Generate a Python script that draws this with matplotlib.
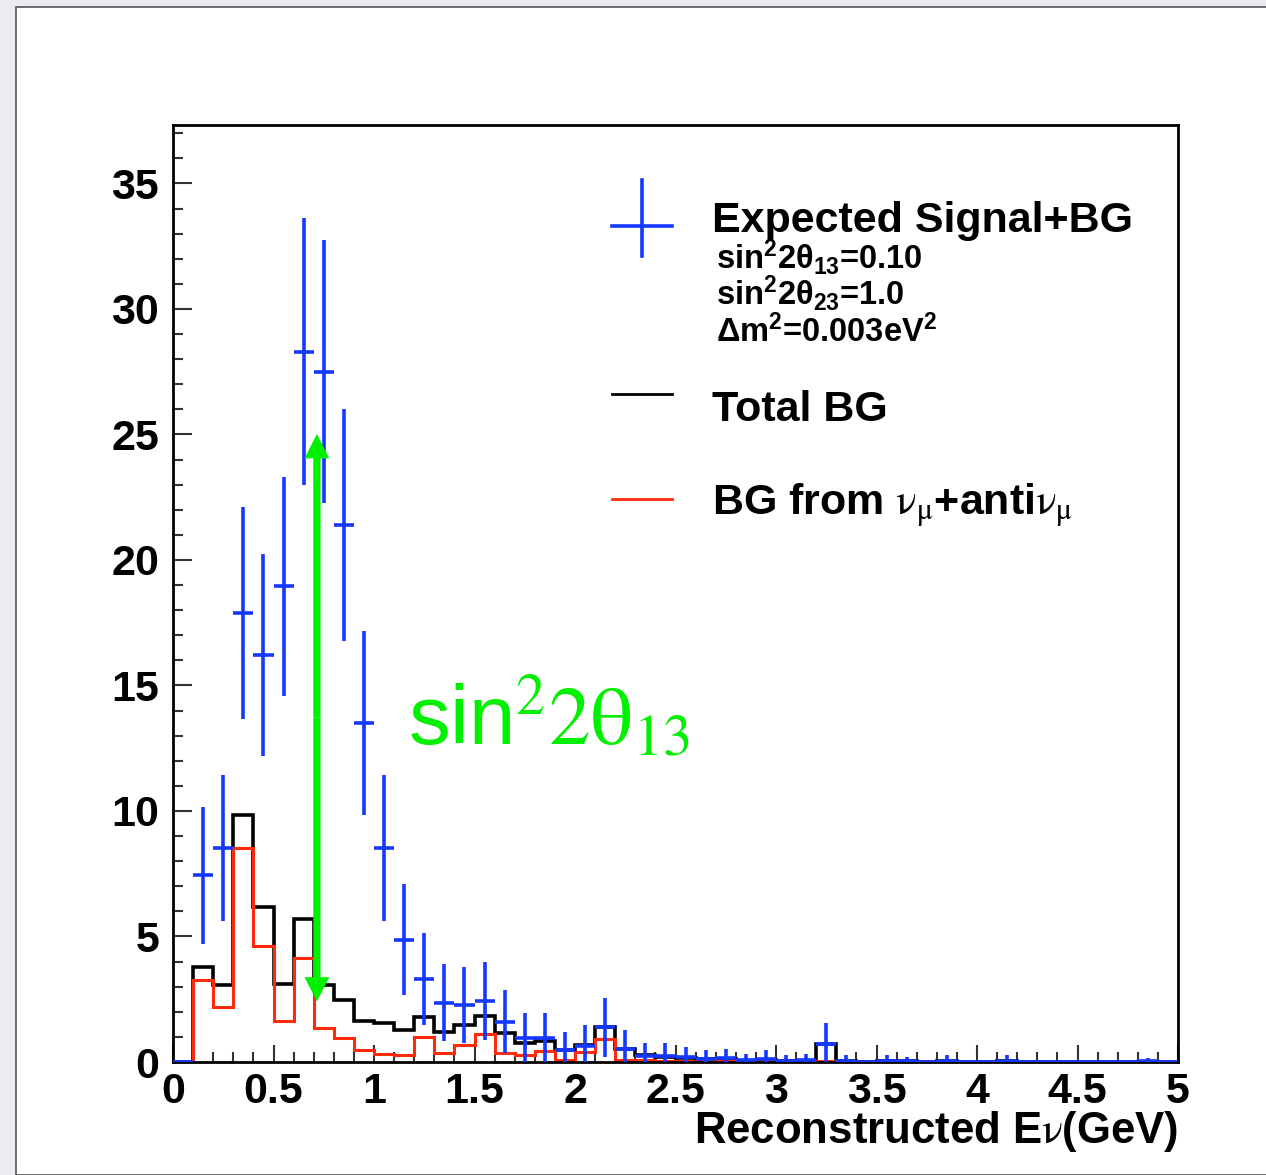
import numpy as np
import matplotlib.pyplot as plt
from matplotlib.patches import Rectangle
from matplotlib.lines import Line2D

plt.rcParams['font.family'] = ['Liberation Sans', 'DejaVu Sans']
plt.rcParams['mathtext.fontset'] = 'custom'
plt.rcParams['mathtext.rm'] = 'Liberation Sans:bold'
plt.rcParams['mathtext.it'] = 'Liberation Sans:bold'
plt.rcParams['mathtext.bf'] = 'Liberation Sans:bold'

# bin edges (GeV), 0.1 GeV bins
edges = np.round(np.arange(0, 5.0001, 0.1), 2)
centers = 0.5 * (edges[:-1] + edges[1:])

# expected signal + BG (blue points)
signal_bg = [0, 7.44, 8.53, 17.9, 16.22, 18.95, 28.3, 27.5, 21.4, 13.5,
             8.53, 4.87, 3.31, 2.36, 2.28, 2.42, 1.61, 0.96, 0.96, 0.49,
             0.65, 1.38, 0.53, 0.25, 0.25, 0.18, 0.13, 0.15, 0.07, 0.12,
             0.05, 0.07, 0.72, 0.05, 0.0, 0.05, 0.03, 0.0, 0.05, 0.0,
             0.0, 0.05, 0.0, 0.0, 0.0, 0.0, 0.0, 0.0, 0.02, 0.0]

# total background (black histogram)
total_bg = [0, 3.77, 3.05, 9.84, 6.16, 3.12, 5.71, 3.05, 2.47, 1.65,
            1.55, 1.26, 1.79, 1.18, 1.48, 1.85, 1.16, 0.76, 0.84, 0.49,
            0.66, 1.38, 0.53, 0.28, 0.2, 0.15, 0.1, 0.1, 0.05, 0.08,
            0.03, 0.05, 0.72, 0.03, 0.0, 0.03, 0.02, 0.0, 0.02, 0.0,
            0.0, 0.02, 0.0, 0.0, 0.0, 0.0, 0.0, 0.0, 0.0, 0.0]

# BG from numu + anti-numu (red histogram)
numu_bg = [0, 3.28, 2.19, 8.51, 4.61, 1.63, 4.14, 1.35, 0.94, 0.48,
           0.33, 0.29, 1.0, 0.35, 0.69, 1.12, 0.36, 0.29, 0.42, 0.09,
           0.38, 0.92, 0.09, 0.09, 0.05, 0.03, 0.02, 0.02, 0.01, 0.02,
           0.0, 0.01, 0.02, 0.0, 0.0, 0.0, 0.0, 0.0, 0.0, 0.0,
           0.0, 0.0, 0.0, 0.0, 0.0, 0.0, 0.0, 0.0, 0.0, 0.0]

signal_bg = np.array(signal_bg)
BLUE = '#1438ff'
RED = '#ff2a0a'
GREEN = '#00f000'

fig = plt.figure(figsize=(12.66, 11.75), dpi=100)
fig.patch.set_facecolor('#ebebf0')
fig.patches.append(Rectangle((16 / 1266, 0), 1.0, 1 - 7 / 1175, transform=fig.transFigure,
                             facecolor='white', edgecolor='#555555', lw=1.2, zorder=-10))

ax = fig.add_axes([173 / 1266, 1 - 1062 / 1175, 1005 / 1266, 937 / 1175])
ax.set_facecolor('white')

ax.stairs(total_bg, edges, color='black', lw=2.6, baseline=0, zorder=2)
ax.stairs(numu_bg, edges, color=RED, lw=2.2, baseline=0, zorder=2)
ax.errorbar(centers, signal_bg, xerr=0.05, yerr=np.sqrt(signal_bg), fmt='none',
            ecolor=BLUE, elinewidth=2.6, capsize=0, zorder=3)

# green double arrow (oscillation signal size)
arrow_x, arrow_lo, arrow_hi = 0.716, 2.41, 25.02
mid = 0.5 * (arrow_lo + arrow_hi)
for tip in (arrow_hi, arrow_lo):
    ax.arrow(arrow_x, mid, 0, tip - mid, width=0.036, head_width=0.123,
             head_length=0.97, length_includes_head=True, color=GREEN, lw=0, zorder=4)
ax.text(1.169, 12.64, r'sin$^{2}2\mathrm{\theta}_{13}$', color=GREEN, fontsize=60,
        fontweight='normal', family='Liberation Sans', math_fontfamily='stix',
        ha='left', va='baseline', zorder=5)

ax.set_xlim(0, 5)
ax.set_ylim(0, 37.33)
ax.set_xticks(np.arange(0, 5.01, 0.5))
ax.set_xticklabels(['0', '0.5', '1', '1.5', '2', '2.5', '3', '3.5', '4', '4.5', '5'],
                   fontweight='bold')
ax.set_xticks(np.arange(0, 5.01, 0.1), minor=True)
ax.set_yticks(np.arange(0, 36, 5))
ax.set_yticklabels([str(v) for v in range(0, 36, 5)], fontweight='bold')
ax.set_yticks(np.arange(0, 38, 1), minor=True)
ax.tick_params(which='both', direction='in', top=False, right=False, labelsize=31,
               color='#333333', width=1.5)
ax.tick_params(axis='x', which='major', length=12, pad=7)
ax.tick_params(axis='x', which='minor', length=7)
ax.tick_params(axis='y', which='major', length=14, pad=10)
ax.tick_params(axis='y', which='minor', length=7)
for s in ax.spines.values():
    s.set_linewidth(2)

ax.set_xlabel(r'Reconstructed E$\mathrm{\nu}$(GeV)', fontsize=31.5, fontweight='bold',
              ha='right', va='baseline', math_fontfamily='stix')
ax.xaxis.set_label_coords(1.0, -0.086)

# legend (drawn like ROOT's TLegend)
tr = ax.transAxes
ax.add_line(Line2D([0.4368, 0.4965], [0.8924, 0.8924], transform=tr, color=BLUE, lw=2.6))
ax.add_line(Line2D([0.4667, 0.4667], [0.8603, 0.9413], transform=tr, color=BLUE, lw=2.6))
ax.add_line(Line2D([0.4368, 0.4965], [0.7130, 0.7130], transform=tr, color='black', lw=2))
ax.add_line(Line2D([0.4368, 0.4965], [0.6007, 0.6007], transform=tr, color=RED, lw=2))
leg_kw = dict(transform=tr, va='baseline', fontweight='bold')
ax.text(0.5363, 0.8855, 'Expected Signal+BG', fontsize=31, **leg_kw)
ax.text(0.5403, 0.8462, r'sin$^{2}$2θ$_{13}$=0.10', fontsize=23.5, **leg_kw)
ax.text(0.5403, 0.8085, r'sin$^{2}$2θ$_{23}$=1.0', fontsize=23.5, **leg_kw)
ax.text(0.5403, 0.7688, r'Δm$^{2}$=0.003eV$^{2}$', fontsize=23.5, **leg_kw)
ax.text(0.5363, 0.6845, 'Total BG', fontsize=31, **leg_kw)
ax.text(0.5363, 0.5839, r'BG from $\mathrm{\nu}_{\mathrm{\mu}}$+anti$\mathrm{\nu}_{\mathrm{\mu}}$',
        fontsize=31, math_fontfamily='stix', **leg_kw)

fig.savefig('out.png', dpi=100, facecolor=fig.get_facecolor())
